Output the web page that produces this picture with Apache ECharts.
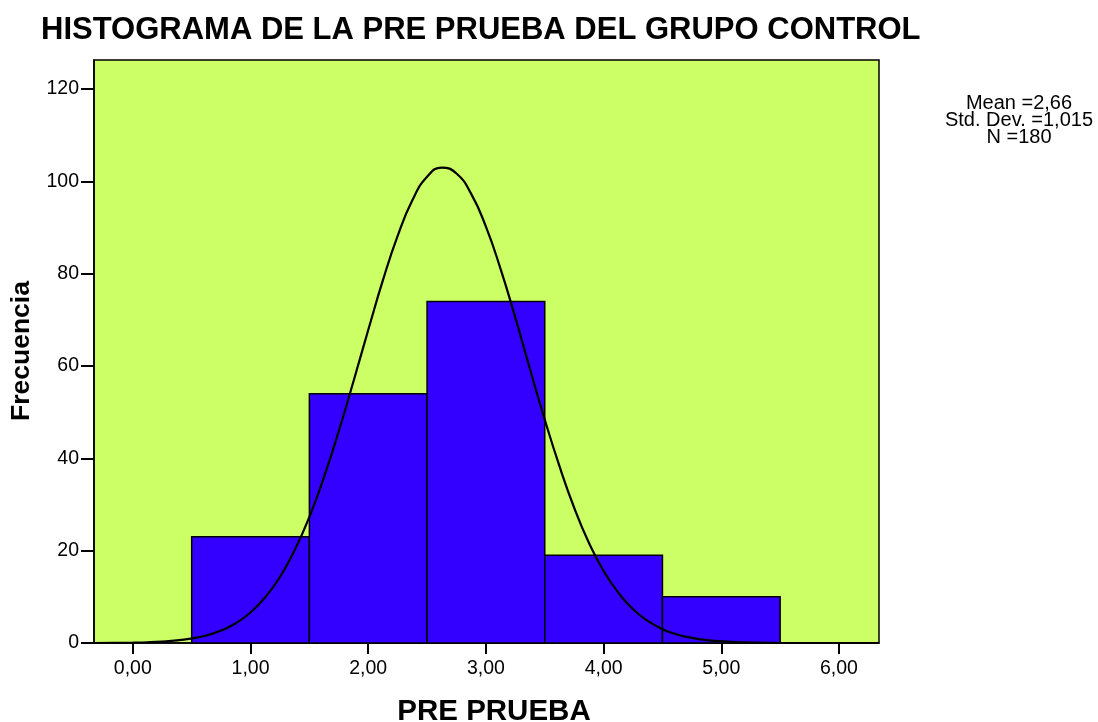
<!DOCTYPE html>
<html>
<head>
<meta charset="utf-8">
<script src="https://cdn.jsdelivr.net/npm/echarts@6/dist/echarts.min.js"></script>
<style>
html,body{margin:0;padding:0;background:#fff;}
#chart{width:1098px;height:722px;}
</style>
</head>
<body>
<div id="chart"></div>
<script>
// Histogram bins (PRE PRUEBA) and frequencies
var binStart = [0.5, 1.5, 2.5, 3.5, 4.5];
var binEnd   = [1.5, 2.5, 3.5, 4.5, 5.5];
var freq     = [23, 54, 74, 19, 10];

// Normal curve points
var curveX = [-0.33, 0, 0.125, 0.25, 0.375, 0.5, 0.625, 0.75, 0.875, 1, 1.125, 1.25, 1.375, 1.5, 1.625, 1.75, 1.875, 2, 2.125, 2.25, 2.375, 2.5, 2.625, 2.75, 2.875, 3, 3.125, 3.25, 3.375, 3.5, 3.625, 3.75, 3.875, 4, 4.125, 4.25, 4.375, 4.5, 4.625, 4.75, 4.875, 5, 5.125, 5.25, 5.375, 5.5, 6.34];
var curveY = [0, 0.1, 0.16, 0.3, 0.55, 1.0, 1.63, 2.7, 4.29, 6.6, 9.9, 14.3, 20.1, 27.3, 36.0, 45.9, 56.7, 67.8, 78.6, 88.2, 95.9, 101.0, 103.0, 101.7, 97.3, 90.2, 81.0, 70.5, 59.3, 48.4, 38.3, 29.3, 21.7, 15.6, 10.9, 7.3, 4.8, 3.0, 1.85, 1.1, 0.63, 0.4, 0.19, 0.1, 0.05, 0.0, 0];

// Tick labels
var xTicks = [0, 1, 2, 3, 4, 5, 6];
var yTicks = [0, 20, 40, 60, 80, 100, 120];

var statsLines = ['Mean =2,66', 'Std. Dev. =1,015', 'N =180'];
var titleText = 'HISTOGRAMA DE LA PRE PRUEBA DEL GRUPO CONTROL';
var xName = 'PRE PRUEBA';
var yName = 'Frecuencia';

var FONT = 'Liberation Sans, Arial, sans-serif';

var histData = binStart.map(function (s, i) { return [s, binEnd[i], freq[i]]; });
var curveData = curveX.map(function (x, i) { return [x, curveY[i]]; });

var chart = echarts.init(document.getElementById('chart'), null, {renderer: 'canvas'});

var option = {
  animation: false,
  backgroundColor: '#ffffff',
  title: {
    text: titleText,
    left: 36,
    top: 10,
    textStyle: {fontFamily: FONT, fontSize: 31, fontWeight: 'bold', color: '#000'}
  },
  grid: {
    left: 94, right: 219, top: 60, bottom: 79,
    show: true,
    backgroundColor: '#CCFF66',
    borderColor: '#000',
    borderWidth: 1.5
  },
  xAxis: {
    type: 'value',
    min: -0.33,
    max: 6.34,
    splitLine: {show: false},
    axisLine: {show: true, onZero: false, lineStyle: {color: '#000', width: 1.5}},
    axisTick: {show: true, customValues: xTicks, length: 11, lineStyle: {color: '#000', width: 2}},
    axisLabel: {
      customValues: xTicks,
      margin: 16,
      fontFamily: FONT, fontSize: 19.5, color: '#000',
      formatter: function (v) { return v.toFixed(2).replace('.', ','); }
    }
  },
  yAxis: {
    type: 'value',
    min: 0,
    max: 126.3,
    splitLine: {show: false},
    axisLine: {show: true, onZero: false, lineStyle: {color: '#000', width: 1.5}},
    axisTick: {show: true, customValues: yTicks, length: 13, lineStyle: {color: '#000', width: 2}},
    axisLabel: {
      customValues: yTicks,
      margin: 15,
      fontFamily: FONT, fontSize: 19.5, color: '#000'
    }
  },
  graphic: [
    {
      type: 'text', x: 1019, y: 95, z: 100,
      style: {
        text: statsLines.join('\n'),
        align: 'center', verticalAlign: 'top',
        fontFamily: FONT, fontSize: 20, lineHeight: 17, fill: '#000'
      }
    },
    {
      type: 'text', x: 494, y: 712, z: 100,
      style: {
        text: xName, align: 'center', verticalAlign: 'middle',
        fontFamily: FONT, fontSize: 29.5, fontWeight: 'bold', fill: '#000'
      }
    },
    {
      type: 'text', x: 22, y: 351, rotation: Math.PI / 2, z: 100,
      style: {
        text: yName, align: 'center', verticalAlign: 'middle',
        fontFamily: FONT, fontSize: 26.5, fontWeight: 'bold', fill: '#000'
      }
    }
  ],
  series: [
    {
      type: 'custom',
      data: histData,
      encode: {x: [0, 1], y: 2},
      z: 2,
      renderItem: function (params, api) {
        var p0 = api.coord([api.value(0), api.value(2)]);
        var p1 = api.coord([api.value(1), 0]);
        return {
          type: 'rect',
          shape: {x: p0[0], y: p0[1], width: p1[0] - p0[0], height: p1[1] - p0[1]},
          style: {fill: '#3300FF', stroke: '#000', lineWidth: 1.5}
        };
      }
    },
    {
      type: 'line',
      data: curveData,
      smooth: true,
      showSymbol: false,
      clip: true,
      z: 5,
      lineStyle: {color: '#000', width: 2.2}
    }
  ]
};

chart.setOption(option);
</script>
</body>
</html>
